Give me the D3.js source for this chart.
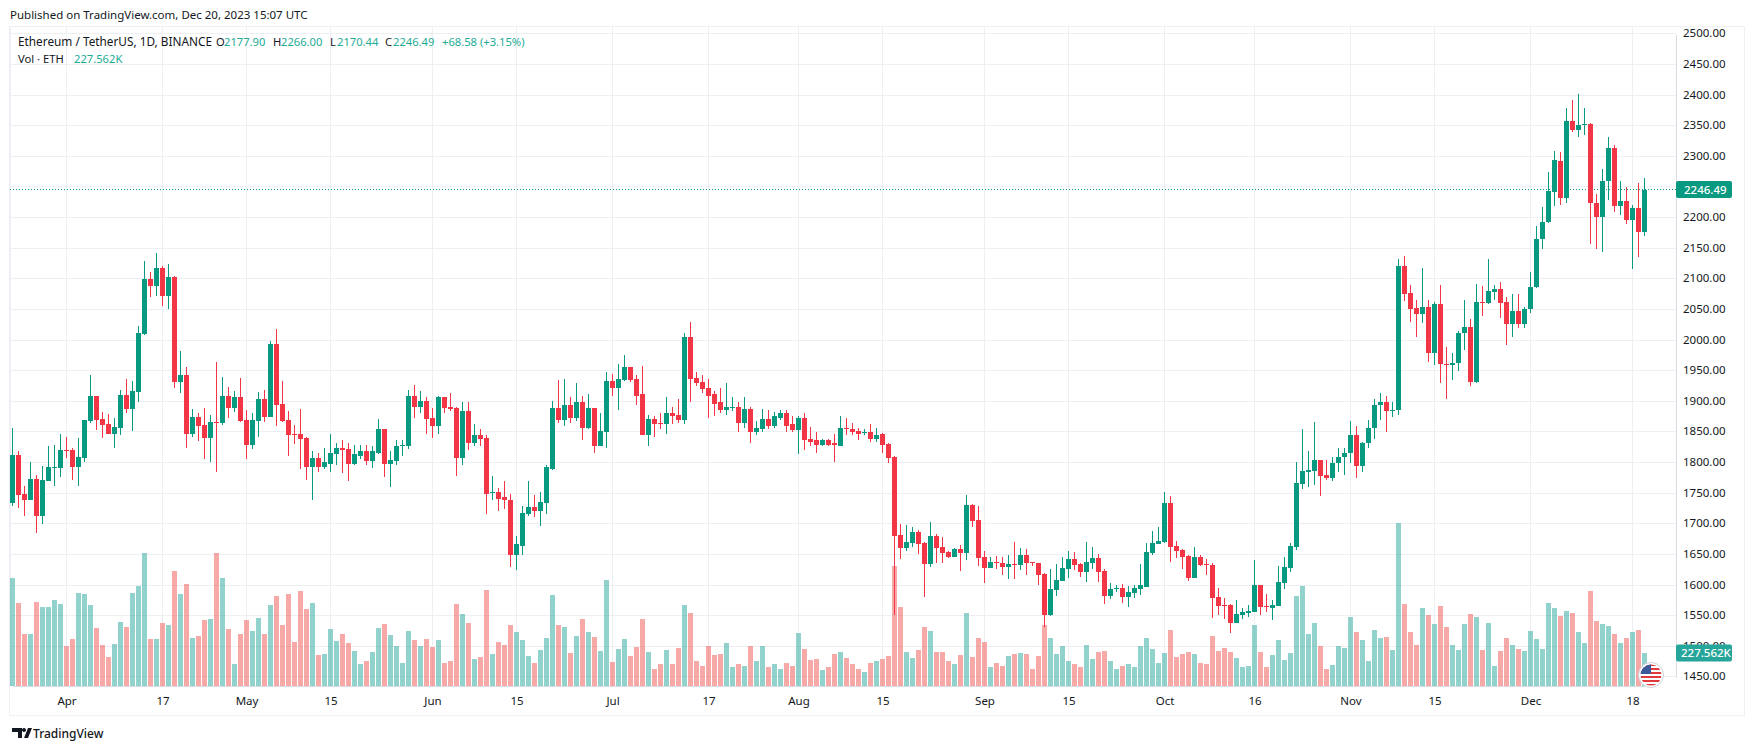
<!DOCTYPE html>
<html>
<head>
<meta charset="utf-8">
<script src="https://cdn.jsdelivr.net/npm/d3@7"></script>
<style>
html,body{margin:0;padding:0;background:#fff;overflow:hidden}
text{font-family:"Noto Sans",sans-serif;fill:#131722}
</style>
</head>
<body>
<div id="chart"></div>
<script>
// daily candles, 23 Mar 2023 to 20 Dec 2023
const opens = [
1734,1813,1749,1740,1774,1714,1771,1792,1792,1821,
1821,1794,1808,1869,1910,1872,1864,1848,1857,1911,
1888,1916,2011,2100,2089,2118,2073,2104,1932,1944,
1848,1875,1862,1841,1867,1865,1910,1890,1908,1870,
1830,1869,1905,1875,1994,1896,1870,1848,1848,1841,
1794,1809,1794,1799,1815,1825,1823,1799,1812,1820,
1804,1817,1855,1799,1804,1827,1828,1910,1892,1902,
1874,1861,1907,1892,1890,1809,1885,1832,1846,1841,
1752,1753,1744,1740,1650,1665,1717,1729,1721,1735,
1791,1890,1871,1894,1874,1900,1858,1890,1827,1851,
1934,1923,1936,1956,1938,1912,1845,1872,1866,1863,
1881,1879,1871,2005,1939,1933,1923,1912,1899,1887,
1890,1892,1866,1889,1850,1856,1872,1861,1874,1881,
1863,1854,1874,1840,1837,1830,1837,1832,1828,1858,
1856,1853,1850,1851,1840,1847,1831,1810,1682,1661,
1669,1687,1669,1635,1681,1663,1655,1646,1660,1653,
1731,1707,1646,1628,1638,1637,1630,1635,1633,1650,
1638,1637,1619,1552,1593,1607,1627,1643,1635,1622,
1637,1645,1624,1583,1595,1596,1581,1588,1594,1598,
1653,1668,1671,1735,1664,1658,1648,1612,1646,1635,
1633,1581,1568,1568,1539,1552,1555,1557,1601,1566,
1563,1566,1604,1628,1663,1766,1785,1787,1805,1780,
1776,1800,1810,1816,1846,1795,1833,1857,1894,1899,
1885,1886,2122,2078,2053,2044,2055,1980,2060,1962,
1960,1963,2013,2022,1932,2063,2062,2080,2084,2063,
2027,2048,2027,2052,2087,2165,2193,2243,2293,2232,
2358,2344,2352,2353,2225,2202,2260,2315,2220,2228,
2196,2217,2177.90]
const closes = [
1813,1748,1740,1774,1714,1772,1794,1794,1821,1820,
1794,1810,1870,1910,1870,1862,1848,1859,1911,1888,
1918,2012,2100,2089,2118,2073,2104,1932,1944,1848,
1875,1860,1841,1867,1865,1910,1890,1908,1869,1830,
1870,1905,1875,1994,1895,1869,1846,1846,1840,1794,
1809,1794,1801,1817,1825,1822,1799,1814,1820,1804,
1819,1855,1799,1805,1828,1830,1910,1892,1902,1872,
1861,1907,1890,1889,1809,1885,1832,1846,1840,1750,
1753,1742,1739,1650,1667,1719,1729,1721,1737,1793,
1890,1871,1894,1874,1900,1858,1890,1827,1853,1934,
1923,1938,1956,1936,1910,1845,1872,1864,1863,1881,
1877,1871,2005,1938,1931,1921,1910,1897,1887,1892,
1892,1866,1889,1850,1858,1872,1861,1876,1881,1861,
1854,1874,1838,1835,1830,1837,1830,1830,1858,1856,
1851,1848,1851,1840,1846,1829,1808,1681,1661,1671,
1687,1668,1635,1681,1661,1653,1646,1660,1653,1731,
1705,1645,1628,1638,1637,1630,1635,1633,1650,1637,
1637,1617,1552,1594,1609,1628,1643,1633,1622,1638,
1645,1622,1583,1594,1596,1581,1589,1596,1601,1655,
1669,1673,1735,1663,1656,1646,1612,1646,1633,1633,
1580,1566,1566,1539,1553,1557,1558,1601,1565,1565,
1568,1606,1630,1664,1767,1787,1788,1805,1779,1775,
1800,1810,1816,1846,1795,1833,1857,1894,1899,1885,
1886,2122,2076,2052,2044,2055,1980,2060,1961,1960,
1963,2013,2022,1932,2063,2062,2081,2084,2062,2027,
2048,2027,2052,2088,2166,2194,2244,2295,2232,2358,
2344,2352,2353,2225,2202,2260,2315,2220,2228,2196,
2217,2177,2246.49]
const highs = [
1857,1820,1763,1802,1781,1795,1828,1830,1848,1843,
1825,1841,1870,1944,1910,1883,1880,1874,1919,1937,
1934,2024,2130,2112,2143,2122,2125,2105,1983,1957,
1888,1882,1890,1878,1965,1941,1924,1918,1939,1887,
1882,1916,1919,1999,2019,1934,1885,1862,1889,1843,
1819,1817,1825,1848,1833,1838,1833,1830,1830,1830,
1827,1872,1855,1820,1838,1837,1920,1928,1918,1908,
1890,1910,1908,1915,1892,1899,1899,1863,1856,1846,
1779,1760,1771,1750,1681,1730,1771,1748,1753,1797,
1902,1935,1938,1907,1931,1910,1913,1890,1881,1949,
1946,1961,1977,1956,1943,1959,1879,1877,1881,1907,
1892,1904,2013,2031,1948,1944,1938,1918,1923,1930,
1907,1899,1907,1892,1869,1889,1887,1884,1887,1886,
1877,1876,1881,1859,1851,1840,1840,1848,1877,1873,
1866,1858,1855,1863,1858,1849,1832,1811,1700,1699,
1696,1691,1671,1704,1684,1679,1656,1661,1666,1748,
1733,1730,1656,1646,1648,1646,1650,1671,1661,1660,
1638,1637,1620,1627,1635,1646,1656,1655,1637,1671,
1663,1651,1627,1604,1601,1602,1599,1601,1635,1669,
1689,1695,1753,1746,1673,1660,1650,1663,1650,1643,
1637,1596,1580,1570,1576,1563,1568,1642,1601,1586,
1576,1632,1647,1669,1802,1855,1820,1867,1805,1805,
1810,1825,1825,1868,1860,1835,1870,1905,1915,1910,
1900,2133,2138,2091,2067,2119,2066,2063,2091,1990,
1980,2015,2067,2035,2092,2089,2133,2091,2096,2071,
2076,2076,2055,2112,2187,2218,2275,2310,2308,2380,
2392,2403,2380,2355,2240,2280,2332,2320,2260,2250,
2222,2258,2266]
const lows = [
1730,1727,1714,1740,1686,1700,1771,1763,1777,1808,
1772,1763,1802,1865,1854,1841,1847,1825,1846,1882,
1852,1900,2009,2071,2073,2056,2051,1923,1914,1825,
1843,1836,1807,1802,1785,1862,1874,1883,1867,1807,
1823,1843,1867,1875,1860,1867,1812,1831,1791,1773,
1740,1786,1791,1786,1797,1784,1771,1797,1807,1797,
1792,1815,1778,1761,1797,1812,1823,1874,1882,1848,
1841,1848,1882,1885,1779,1797,1822,1828,1828,1716,
1739,1721,1725,1631,1626,1650,1714,1712,1698,1716,
1788,1866,1861,1866,1869,1838,1856,1817,1827,1825,
1910,1887,1934,1933,1895,1845,1827,1843,1856,1848,
1863,1866,1863,1899,1926,1915,1874,1876,1882,1879,
1885,1851,1858,1833,1846,1850,1856,1858,1871,1850,
1851,1814,1822,1827,1817,1828,1827,1802,1827,1846,
1846,1838,1846,1835,1835,1816,1800,1552,1643,1656,
1663,1651,1581,1630,1637,1637,1645,1646,1624,1642,
1695,1632,1604,1628,1627,1617,1611,1611,1625,1617,
1632,1601,1532,1550,1583,1607,1612,1625,1614,1606,
1627,1606,1570,1578,1589,1571,1565,1580,1585,1598,
1650,1668,1669,1638,1645,1627,1607,1612,1632,1617,
1547,1552,1545,1522,1539,1545,1548,1557,1552,1557,
1544,1566,1594,1622,1658,1757,1761,1764,1746,1772,
1770,1785,1780,1800,1775,1785,1825,1840,1870,1850,
1875,1878,2065,2031,2005,2029,1965,1960,1930,1905,
1935,1950,1985,1925,1930,2040,2060,2066,2037,1992,
2005,2021,2021,2045,2086,2150,2192,2220,2222,2225,
2340,2332,2335,2157,2150,2145,2230,2210,2205,2190,
2117,2136,2170.44]
// volume in thousands of ETH
const volumes = [
745,572,358,358,579,545,545,593,565,276,
324,641,634,558,400,282,200,289,441,407,
641,690,917,324,324,434,420,793,634,703,
331,345,455,462,917,745,393,150,358,455,
379,469,358,558,621,420,634,303,655,531,
572,213,220,393,310,358,296,241,150,170,
234,400,427,351,276,160,379,317,276,324,
269,317,160,175,565,496,434,186,200,662,
220,303,282,420,372,317,207,160,248,331,
628,420,407,227,345,462,372,338,241,731,
165,255,324,207,269,462,234,120,150,248,
150,262,558,503,170,140,276,214,220,296,
130,150,140,276,170,276,130,150,120,160,
140,365,255,180,186,110,130,220,234,193,
150,120,100,160,170,186,207,828,545,234,
193,248,407,379,234,234,170,150,213,503,
200,331,303,130,160,140,207,220,227,220,
120,207,420,331,220,276,170,150,130,283,
186,234,241,170,120,140,150,130,276,331,
255,160,227,386,200,220,234,220,160,150,
345,241,262,234,193,130,140,420,234,130,
213,317,180,227,621,690,358,434,276,117,
145,276,262,476,372,317,172,386,331,338,
248,1124,565,372,282,538,490,427,552,407,
282,248,427,496,476,248,434,138,241,331,
282,255,241,379,324,255,572,538,480,520,
503,372,296,658,449,427,413,358,296,333,
372,386,227.562]
const priceTicks = d3.range(1450,2501,50)
const timeTicks = ['2023-04-01','2023-04-17','2023-05-01','2023-05-15','2023-06-01','2023-06-15','2023-07-01','2023-07-17','2023-08-01','2023-08-15','2023-09-01','2023-09-15','2023-10-01','2023-10-16','2023-11-01','2023-11-15','2023-12-01','2023-12-18']
const timeLabels = ['Apr','17','May','15','Jun','15','Jul','17','Aug','15','Sep','15','Oct','16','Nov','15','Dec','18']
const lastClose = closes[closes.length-1], lastVol = volumes[volumes.length-1]

const W=1754,H=751
const plotLeft=10,plotRight=1676,plotTop=27,plotBottom=686
const up='#089981',down='#f23645',volUp='#26a69a',volDown='#ef5350',grid='#eeeff3',legendGreen='#22ab94'
const dates = d3.utcDay.range(new Date(Date.UTC(2023,2,23)),new Date(Date.UTC(2023,11,21)))
const candles = dates.map((d,i)=>({d,o:opens[i],c:closes[i],h:highs[i],l:lows[i],v:volumes[i]}))

let svg = d3.select('#chart').append('svg').attr('width',W).attr('height',H)
svg.append('rect').attr('width',W).attr('height',H).attr('fill','#fff')

let x = d3.scaleUtc().domain([dates[0],dates[dates.length-1]]).range([12.5,1644.5])
let y = d3.scaleLinear().domain([1450,2500]).range([677.4,34.3])
let yVol = d3.scaleLinear().domain([0,1000]).range([plotBottom,plotBottom-145])
const py = v=>Math.round(y(v))
const tickDates = timeTicks.map(t=>new Date(t+'T00:00:00Z'))
const colour = c=>c.c>=c.o?up:down

// frame and grid
svg.append('rect').attr('x',9.5).attr('y',26.5).attr('width',1735).attr('height',689).attr('fill','none').attr('stroke','#eef0f4')
svg.append('g').selectAll('line').data(tickDates).join('line')
  .attr('x1',d=>x(d)).attr('x2',d=>x(d)).attr('y1',plotTop).attr('y2',plotBottom).attr('stroke',grid).attr('stroke-width',1)
svg.append('g').selectAll('line').data(priceTicks).join('line')
  .attr('x1',plotLeft).attr('x2',plotRight).attr('y1',d=>py(d)-.5).attr('y2',d=>py(d)-.5).attr('stroke',grid).attr('stroke-width',1)
svg.append('rect').attr('x',9).attr('y',plotTop).attr('width',2).attr('height',plotBottom-plotTop).attr('fill','#eef0f5')

// volume
svg.append('g').selectAll('rect').data(candles).join('rect')
  .attr('x',d=>x(d.d)-2.5).attr('width',5)
  .attr('y',d=>Math.round(yVol(d.v))).attr('height',d=>plotBottom-Math.round(yVol(d.v)))
  .attr('fill',d=>d.c>=d.o?volUp:volDown).attr('fill-opacity',0.5)

// last price line
svg.append('line').attr('x1',plotLeft).attr('x2',plotRight).attr('y1',Math.floor(y(lastClose))+.5).attr('y2',Math.floor(y(lastClose))+.5)
  .attr('stroke',up).attr('stroke-width',1).attr('stroke-dasharray','1 2')

// candles
svg.append('g').selectAll('rect').data(candles).join('rect')
  .attr('x',d=>x(d.d)-0.5).attr('width',1)
  .attr('y',d=>py(d.h)).attr('height',d=>py(d.l)-py(d.h)).attr('fill',colour)
svg.append('g').selectAll('rect').data(candles).join('rect')
  .attr('x',d=>x(d.d)-2.5).attr('width',5)
  .attr('y',d=>py(Math.max(d.o,d.c))).attr('height',d=>Math.max(1,Math.abs(py(d.o)-py(d.c)))).attr('fill',colour)

// axes
let yAxis = svg.append('g').attr('transform',`translate(${plotRight},0)`)
  .call(d3.axisRight(y).tickValues(priceTicks).tickFormat(d3.format('.2f')).tickSize(0).tickPadding(7))
let xAxis = svg.append('g').attr('transform',`translate(0,${plotBottom})`)
  .call(d3.axisBottom(x).tickValues(tickDates).tickFormat((d,i)=>timeLabels[i]).tickSize(0).tickPadding(11))
yAxis.select('.domain').attr('stroke','#d9dce3')
xAxis.select('.domain').attr('stroke','#d9dce3')
svg.selectAll('.tick text').attr('font-size',11.5).attr('font-family','"Noto Sans",sans-serif').attr('fill','#131722')
yAxis.selectAll('.tick text').attr('dy','.22em')

// price tags
svg.append('rect').attr('x',plotRight).attr('y',y(lastClose)-8.5).attr('width',56).attr('height',17).attr('rx',2).attr('fill',up)
svg.append('text').attr('x',plotRight+8).attr('y',y(lastClose)+4).attr('font-size',11.5).attr('font-weight',500).style('fill','#fff').text(d3.format('.2f')(lastClose))
svg.append('rect').attr('x',plotRight).attr('y',yVol(lastVol)-8.5).attr('width',56).attr('height',17).attr('rx',2).attr('fill',volUp)
svg.append('text').attr('x',plotRight+5).attr('y',yVol(lastVol)+4).attr('font-size',11.5).attr('font-weight',500).style('fill','#fff').text(lastVol+'K')

// header and legend
svg.append('text').attr('x',10).attr('y',19).attr('font-size',11.5).text('Published on TradingView.com, Dec 20, 2023 15:07 UTC')
const legendRow = [['Ethereum / TetherUS, 1D, BINANCE',18,0,11.8],['O',216,0,11.2],['2177.90',224,1,11.2],['H',273,0,11.2],['2266.00',281,1,11.2],['L',330,0,11.2],['2170.44',337,1,11.2],['C',385,0,11.2],['2246.49',393,1,11.2],['+68.58 (+3.15%)',442,1,11.2]]
svg.append('g').selectAll('text').data(legendRow).join('text')
  .attr('x',d=>d[1]).attr('y',46).attr('font-size',d=>d[3]).style('fill',d=>d[2]?legendGreen:'#131722').text(d=>d[0])
svg.append('text').attr('x',18).attr('y',63).attr('font-size',11.2).text('Vol · ETH')
svg.append('text').attr('x',74).attr('y',63).attr('font-size',11.2).style('fill',legendGreen).text('227.562K')

// flag badge
let flag = svg.append('g').attr('transform','translate(1651,675)')
flag.append('circle').attr('r',12.5).attr('fill','#fff').attr('stroke','#cfd2da')
let clip = svg.append('clipPath').attr('id','flagclip'); clip.append('circle').attr('r',10.5)
let flagInner = flag.append('g').attr('clip-path','url(#flagclip)')
flagInner.append('rect').attr('x',-11).attr('y',-11).attr('width',22).attr('height',22).attr('fill','#fff')
flagInner.selectAll('.s').data(d3.range(-11,11,4)).join('rect').attr('x',-11).attr('y',d=>d).attr('width',22).attr('height',2).attr('fill','#e0393e')
flagInner.append('rect').attr('x',-11).attr('y',-11).attr('width',11).attr('height',10).attr('fill','#3c5a9a')

// footer logo
svg.append('path').attr('d','M12 728h10v10h-4v-6h-6zM24 728a2 2 0 1 0 .01 0zM28 728h4l-4 10h-4z').attr('fill','#131722')
svg.append('text').attr('x',33).attr('y',737.5).attr('font-size',12).attr('font-weight',500).text('TradingView')
</script>
</body>
</html>
